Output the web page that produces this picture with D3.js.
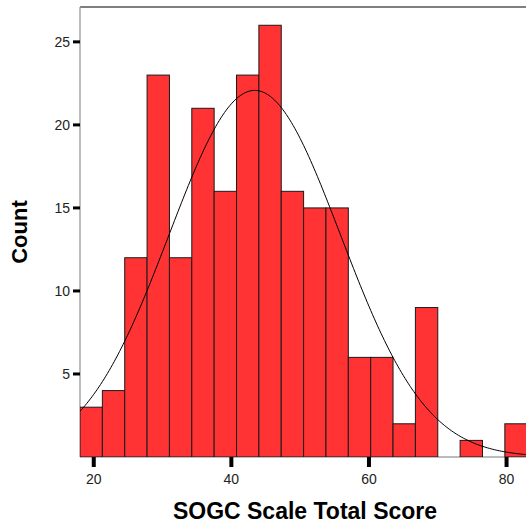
<!DOCTYPE html>
<html>
<head>
<meta charset="utf-8">
<script src="https://cdn.jsdelivr.net/npm/d3@7"></script>
<style>
  body { margin: 0; background: #fff; }
  text { font-family: "Liberation Sans", Arial, sans-serif; }
</style>
</head>
<body>
<div id="chart"></div>
<script>
// histogram bins (lower edges) and counts
let binEdges = [18, 21.25, 24.5, 27.75, 31, 34.25, 37.5, 40.75, 44, 47.25, 50.5,
                53.75, 57, 60.25, 63.5, 66.75, 70, 73.25, 76.5, 79.75, 83];
let counts = [3, 4, 12, 23, 12, 21, 16, 23, 26, 16, 15, 15, 6, 6, 2, 9, 0, 1, 0, 2];

let xTicks = [20, 40, 60, 80];
let yTicks = [5, 10, 15, 20, 25];

// normal curve overlay
let fitMean = 43.4;
let fitSd = 12.45;
let fitN = 212;
let binWidth = 3.25;

let width = 526, height = 529;
let plotLeft = 80, plotTop = 7, plotBottom = 457;

let svg = d3.select("#chart").append("svg")
    .attr("width", width)
    .attr("height", height);

let x = d3.scaleLinear().domain([18, 83]).range([plotLeft, plotLeft + 65 * 6.88]);
let y = d3.scaleLinear().domain([0, 27.1]).range([plotBottom, plotTop]);

svg.append("clipPath").attr("id", "plot")
    .append("rect")
    .attr("x", plotLeft).attr("y", plotTop)
    .attr("width", width - plotLeft).attr("height", plotBottom - plotTop);

// frame: top + left + baseline
svg.append("line")
    .attr("x1", plotLeft).attr("x2", width)
    .attr("y1", plotTop).attr("y2", plotTop)
    .attr("stroke", "#555").attr("stroke-width", 1.3);
svg.append("line")
    .attr("x1", plotLeft).attr("x2", plotLeft)
    .attr("y1", plotTop).attr("y2", plotBottom)
    .attr("stroke", "#999").attr("stroke-width", 1.3);
svg.append("line")
    .attr("x1", plotLeft).attr("x2", width)
    .attr("y1", plotBottom).attr("y2", plotBottom)
    .attr("stroke", "#777").attr("stroke-width", 1);

let bins = counts.map(function(c, i) {
    return {x0: binEdges[i], x1: binEdges[i + 1], count: c};
}).filter(function(d) { return d.count > 0; });

svg.append("g").attr("clip-path", "url(#plot)")
    .selectAll("rect").data(bins).enter()
    .append("rect")
    .attr("x", function(d) { return x(d.x0); })
    .attr("y", function(d) { return y(d.count); })
    .attr("width", function(d) { return x(d.x1) - x(d.x0); })
    .attr("height", function(d) { return y(0) - y(d.count); })
    .attr("fill", "#ff3333")
    .attr("stroke", "#1a1a1a")
    .attr("stroke-width", 1);

// normal curve
let curvePts = d3.range(18, 83.01, 0.25).map(function(v) {
    let z = (v - fitMean) / fitSd;
    return [v, fitN * binWidth / (fitSd * Math.sqrt(2 * Math.PI)) * Math.exp(-0.5 * z * z)];
});
svg.append("path")
    .attr("clip-path", "url(#plot)")
    .datum(curvePts)
    .attr("fill", "none")
    .attr("stroke", "#000")
    .attr("stroke-width", 1)
    .attr("d", d3.line().x(d => x(d[0])).y(d => y(d[1])));

// y axis ticks
let yg = svg.append("g");
yg.selectAll("line").data(yTicks).enter().append("line")
    .attr("x1", plotLeft - 7).attr("x2", plotLeft)
    .attr("y1", d => y(d)).attr("y2", d => y(d))
    .attr("stroke", "#000").attr("stroke-width", 3);
yg.selectAll("text").data(yTicks).enter().append("text")
    .attr("x", plotLeft - 10)
    .attr("y", d => y(d) + 5)
    .attr("text-anchor", "end")
    .style("font-size", "14px")
    .attr("fill", "#222")
    .text(d => d);

// x axis ticks
let xg = svg.append("g");
xg.selectAll("line").data(xTicks).enter().append("line")
    .attr("x1", d => x(d)).attr("x2", d => x(d))
    .attr("y1", plotBottom).attr("y2", plotBottom + 10)
    .attr("stroke", "#000").attr("stroke-width", 4);
xg.selectAll("text").data(xTicks).enter().append("text")
    .attr("x", d => x(d))
    .attr("y", 484)
    .attr("text-anchor", "middle")
    .style("font-size", "14px")
    .attr("fill", "#222")
    .text(d => d);

// axis titles
svg.append("text")
    .attr("transform", "translate(27,232) rotate(-90)")
    .attr("text-anchor", "middle")
    .style("font-size", "22px")
    .style("font-weight", "bold")
    .text("Count");

svg.append("text")
    .attr("x", 305)
    .attr("y", 519)
    .attr("text-anchor", "middle")
    .style("font-size", "23px")
    .style("font-weight", "bold")
    .text("SOGC Scale Total Score");
</script>
</body>
</html>
